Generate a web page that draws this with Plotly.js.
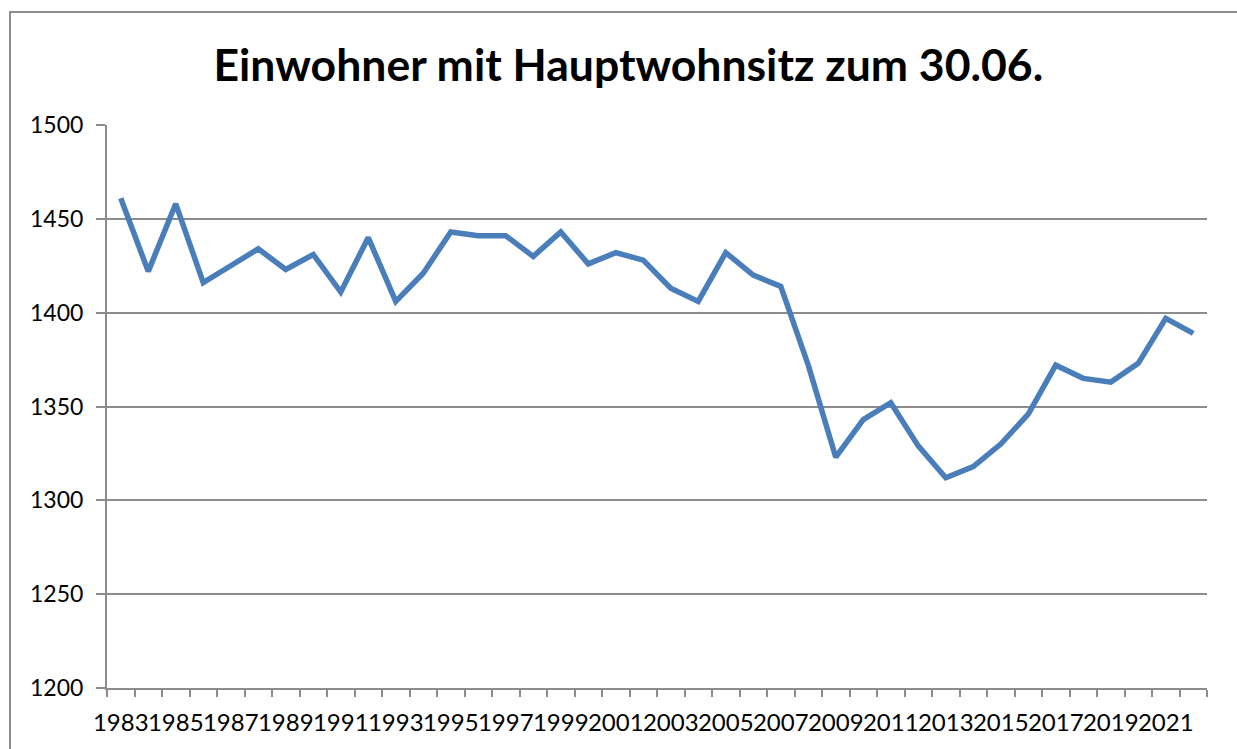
<!DOCTYPE html>
<html>
<head>
<meta charset="utf-8">
<script src="https://cdn.plot.ly/plotly-3.0.1.min.js"></script>
<style>html,body{margin:0;padding:0;background:#fff;overflow:hidden;}#chart{width:1237px;height:749px;}</style>
</head>
<body>
<div id="chart"></div>
<script>
const years = [1983,1984,1985,1986,1987,1988,1989,1990,1991,1992,1993,1994,1995,1996,1997,1998,1999,2000,2001,2002,2003,2004,2005,2006,2007,2008,2009,2010,2011,2012,2013,2014,2015,2016,2017,2018,2019,2020,2021,2022];
const residents = [1461,1422,1458,1416,1425,1434,1423,1431,1411,1440,1406,1421,1443,1441,1441,1430,1443,1426,1432,1428,1413,1406,1432,1420,1414,1372,1323,1343,1352,1329,1312,1318,1330,1346,1372,1365,1363,1373,1397,1389];
const titleText = "Einwohner mit Hauptwohnsitz zum 30.06.";

const gridCol = "#8c8c8c";
const trace = {
  x: years, y: residents, type: "scatter", mode: "lines",
  line: {color: "#4a7ebb", width: 5.5}, hoverinfo: "x+y"
};
const bx = (10 - 107) / 1100, by = (688 - 12) / 563;
const bxr = (1237 - 107) / 1100, byb = -61 / 563;
const layout = {
  width: 1237, height: 749,
  paper_bgcolor: "#fff", plot_bgcolor: "#fff",
  margin: {l: 107, r: 30, t: 125, b: 61},
  showlegend: false,
  font: {family: "Lato, 'Open Sans', sans-serif", color: "#000"},
  title: {text: "<b>" + titleText + "</b>", font: {size: 44.5, family: "Lato, sans-serif", color: "#000"},
          xref: "container", x: 0.508, xanchor: "center", yref: "container", y: 0.912, yanchor: "middle"},
  xaxis: {
    range: [1982.5, 2022.5], tickmode: "linear", tick0: 1983, dtick: 2, tickangle: 0,
    ticks: "", showgrid: false, zeroline: false,
    showline: true, linecolor: gridCol, linewidth: 2,
    ticklabelstandoff: 12,
    tickfont: {size: 24, family: "Lato, sans-serif", color: "#000"},
    minor: {tickmode: "linear", tick0: 1982.5, dtick: 1, ticks: "outside", ticklen: 7, tickcolor: gridCol, tickwidth: 2, showgrid: false}
  },
  yaxis: {
    range: [1200, 1500], tickmode: "linear", tick0: 1200, dtick: 50,
    ticks: "outside", ticklen: 9, tickcolor: gridCol, tickwidth: 2,
    showgrid: true, gridcolor: gridCol, gridwidth: 2, zeroline: false,
    showline: true, linecolor: gridCol, linewidth: 2,
    ticklabelstandoff: 8,
    tickfont: {size: 23, family: "Lato, sans-serif", color: "#000"}
  },
  shapes: [{
    type: "path", xref: "paper", yref: "paper",
    path: "M " + bx + "," + byb + " L " + bx + "," + by + " L " + bxr + "," + by,
    line: {color: gridCol, width: 2}, layer: "below"
  }]
};
Plotly.newPlot("chart", [trace], layout, {displayModeBar: false, staticPlot: true});
</script>
</body>
</html>
